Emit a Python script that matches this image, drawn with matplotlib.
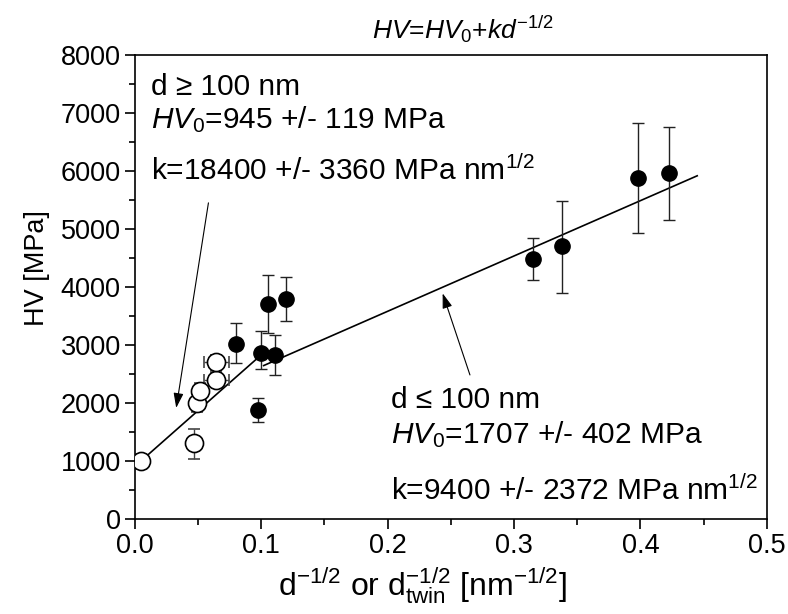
import numpy as np
import matplotlib
matplotlib.use('Agg')
import matplotlib.pyplot as plt

plt.rcParams['font.family'] = ['Liberation Sans', 'DejaVu Sans']
plt.rcParams['mathtext.fontset'] = 'custom'
plt.rcParams['mathtext.rm'] = 'Liberation Sans'
plt.rcParams['mathtext.it'] = 'Liberation Sans:italic'

# 开放圆点 (d >= 100 nm)
open_x = [0.005, 0.0465, 0.0495, 0.052, 0.0645, 0.0645]
open_y = [1000, 1300, 2000, 2200, 2400, 2700]
open_yerr_lo = [0, 260, 150, 150, 130, 130]
open_yerr_hi = [0, 250, 150, 150, 130, 130]
open_xerr = [0, 0, 0, 0.004, 0.010, 0.010]

# 实心圆点 (d <= 100 nm)
fill_x = [0.080, 0.0975, 0.0998, 0.1055, 0.111, 0.120, 0.315, 0.338, 0.398, 0.4225]
fill_y = [3020, 1870, 2870, 3710, 2830, 3790, 4490, 4700, 5890, 5970]
fill_yerr_lo = [330, 200, 290, 510, 350, 370, 360, 800, 950, 820]
fill_yerr_hi = [360, 210, 370, 500, 350, 380, 360, 790, 940, 800]

# 拟合直线
fit1_x = [0.005, 0.098]
fit1_y = [1000, 2790]
fit2_x = [0.102, 0.445]
fit2_y = [2645, 5920]

fig = plt.figure(figsize=(7.88, 6.14), dpi=100)
ax = fig.add_axes([0.171, 0.155, 0.802, 0.755])

ax.plot(fit1_x, fit1_y, color='black', lw=1.2)
ax.plot(fit2_x, fit2_y, color='black', lw=1.2)

ax.errorbar(fill_x, fill_y, yerr=[fill_yerr_lo, fill_yerr_hi], fmt='o', ms=11,
            mfc='black', mec='black', ecolor='#222222', elinewidth=1, capsize=4, zorder=3)
ax.errorbar(open_x, open_y, yerr=[open_yerr_lo, open_yerr_hi], xerr=open_xerr, fmt='o', ms=13,
            mfc='white', mec='black', mew=1.2, ecolor='#444444', elinewidth=1, capsize=4, zorder=4)

ax.set_xlim(0, 0.5)
ax.set_ylim(0, 8000)
ax.set_xticks(np.arange(0, 0.51, 0.1))
ax.set_xticks(np.arange(0.05, 0.5, 0.1), minor=True)
ax.set_yticks(np.arange(0, 8001, 1000))
ax.set_yticks(np.arange(500, 8000, 1000), minor=True)
ax.set_xticklabels(['0.0', '0.1', '0.2', '0.3', '0.4', '0.5'])
ax.tick_params(which='both', direction='out', labelsize=19.5, width=1.2)
ax.tick_params(which='major', length=7, pad=3)
ax.tick_params(which='minor', length=4)
for s in ax.spines.values():
    s.set_linewidth(1.2)

ax.set_ylabel('HV [MPa]', fontsize=19.5)
ax.yaxis.set_label_coords(-0.134, 0.54)
ax.set_xlabel(r'd$^{\mathregular{-1/2}}$ or d$^{\mathregular{-1/2}}_{\mathregular{twin}}$ [nm$^{\mathregular{-1/2}}$]',
              fontsize=23, labelpad=5)
ax.xaxis.label.set_x(0.455)
ax.set_title(r'$HV$=$HV_{\mathregular{0}}$+$kd^{\mathregular{-1/2}}$', fontsize=19, pad=12, x=0.52)

fs = 21.5
ax.text(0.0125, 7310, 'd ≥ 100 nm', fontsize=fs, va='baseline')
ax.text(0.0125, 6736, r'$HV_{\mathregular{0}}$=945 +/- 119 MPa', fontsize=fs, va='baseline')
ax.text(0.0125, 5845, r'k=18400 +/- 3360 MPa nm$^{\mathregular{1/2}}$', fontsize=fs, va='baseline')

ax.text(0.203, 1919, 'd ≤ 100 nm', fontsize=fs, va='baseline')
ax.text(0.203, 1305, r'$HV_{\mathregular{0}}$=1707 +/- 402 MPa', fontsize=fs, va='baseline')
ax.text(0.203, 330, r'k=9400 +/- 2372 MPa nm$^{\mathregular{1/2}}$', fontsize=fs, va='baseline')

arrow = dict(arrowstyle='-|>,head_length=0.9,head_width=0.3', color='black', lw=0.8,
             shrinkA=0, shrinkB=0)
ax.annotate('', xy=(0.0328, 1914), xytext=(0.0583, 5453), arrowprops=arrow)
ax.annotate('', xy=(0.2436, 3891), xytext=(0.2652, 2483), arrowprops=arrow)

fig.savefig('out.png', dpi=100)
